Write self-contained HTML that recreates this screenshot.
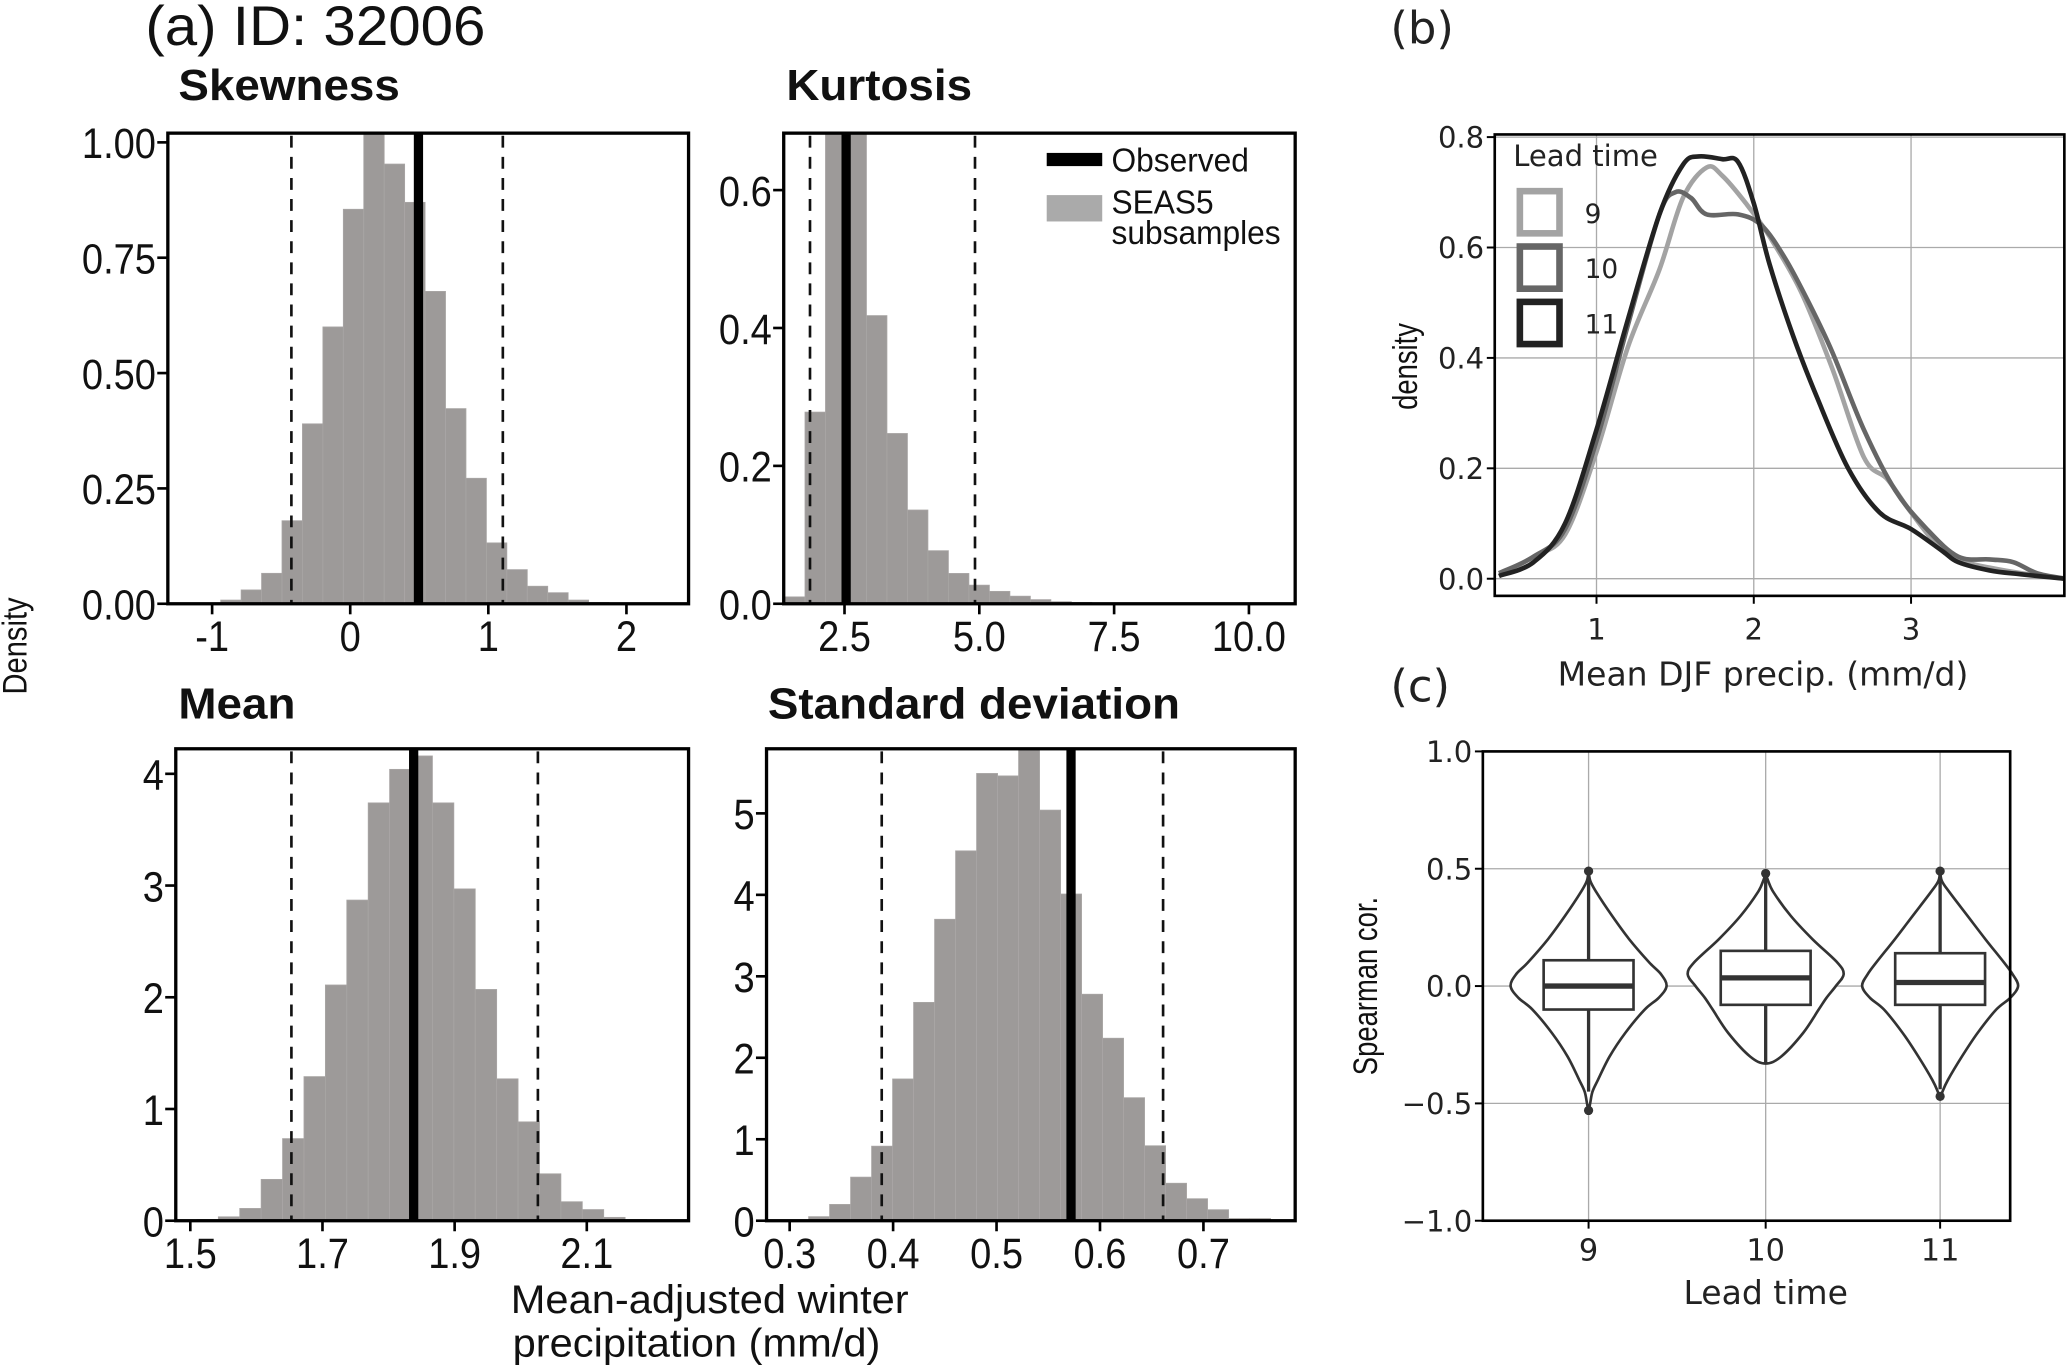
<!DOCTYPE html>
<html><head><meta charset="utf-8"><style>
html,body{margin:0;padding:0;background:#fff;}
svg{display:block;}
.n{font-family:"Liberation Sans",sans-serif;}
.w{font-family:"DejaVu Sans","Liberation Sans",sans-serif;}
</style></head><body>
<svg id="fig" width="2067" height="1371" viewBox="0 0 1564 1040" preserveAspectRatio="none" xmlns="http://www.w3.org/2000/svg">
</svg>
<script>
// ---- data ----
const skewStart=-0.938, skewWidth=0.148;
const skewDens=[0.008,0.03,0.066,0.18,0.39,0.60,0.855,1.03,0.953,0.87,0.677,0.423,0.272,0.132,0.074,0.038,0.024,0.008,0.003];
const skewObs=0.494, skewQ=[-0.426,1.105];
const skewTicksX=[-1,0,1,2], skewTicksY=[0,0.25,0.5,0.75,1.0];
const skewTickLabY=["0.00","0.25","0.50","0.75","1.00"];

const kurtStart=1.387, kurtWidth=0.38;
const kurtDens=[0.01,0.278,0.70,0.70,0.418,0.247,0.136,0.077,0.044,0.027,0.018,0.011,0.006,0.003,0.002,0.001];
const kurtObs=2.53, kurtQ=[1.86,4.92];
const kurtTicksX=[2.5,5.0,7.5,10.0], kurtTicksY=[0,0.2,0.4,0.6];

const meanStart=1.510, meanWidth=0.0324;
const meanDens=[0.01,0.035,0.11,0.37,0.735,1.29,2.11,2.87,3.74,4.04,4.16,3.74,2.97,2.07,1.27,0.885,0.42,0.17,0.10,0.03,0.01];
const meanObs=1.838, meanQ=[1.653,2.026];
const meanTicksX=[1.5,1.7,1.9,2.1], meanTicksY=[0,1,2,3,4];

const sdStart=0.298, sdWidth=0.0203;
const sdDens=[0.01,0.05,0.2,0.535,0.915,1.74,2.68,3.70,4.54,5.49,5.46,5.80,5.04,4.01,2.78,2.24,1.51,0.92,0.46,0.27,0.135,0.027,0.027];
const sdObs=0.572, sdQ=[0.389,0.661];
const sdTicksX=[0.3,0.4,0.5,0.6,0.7], sdTicksY=[0,1,2,3,4,5];

const leadLabels=["9","10","11"];
const leadColors=["#a3a3a3","#666666","#222222"];
const densX9=[0.38,0.6,0.8,1.0,1.2,1.4,1.55,1.7,1.8,1.95,2.1,2.3,2.5,2.7,2.85,3.0,3.2,3.35,3.5,3.7,3.98];
const densY9=[0.005,0.04,0.08,0.23,0.42,0.56,0.69,0.745,0.73,0.68,0.62,0.52,0.38,0.22,0.18,0.12,0.05,0.03,0.02,0.01,0.0];
const densX10=[0.38,0.6,0.8,1.0,1.2,1.4,1.5,1.6,1.7,1.9,2.05,2.2,2.35,2.5,2.7,2.9,3.1,3.3,3.5,3.65,3.8,3.98];
const densY10=[0.01,0.04,0.09,0.25,0.46,0.66,0.70,0.69,0.66,0.66,0.64,0.58,0.50,0.41,0.27,0.16,0.09,0.04,0.035,0.03,0.01,0.0];
const densX11=[0.38,0.6,0.8,1.0,1.2,1.4,1.55,1.65,1.8,1.9,2.0,2.1,2.25,2.4,2.6,2.8,3.0,3.2,3.3,3.5,3.7,3.98];
const densY11=[0.005,0.03,0.1,0.27,0.47,0.66,0.75,0.765,0.76,0.755,0.68,0.57,0.44,0.33,0.20,0.12,0.09,0.05,0.03,0.015,0.008,0.0];

const corrQ1=[-0.10,-0.08,-0.08], corrQ3=[0.11,0.15,0.14], corrMed=[0.0,0.035,0.015];
const corrLo=[-0.45,-0.33,-0.44], corrHi=[0.49,0.48,0.49];
const corrOutLo=[-0.53,null,-0.47], corrOutHi=[0.49,0.48,0.49];
const violinY9=[0.5,0.45,0.4,0.3,0.2,0.1,0.05,0.0,-0.05,-0.1,-0.2,-0.3,-0.4,-0.45,-0.5,-0.53];
const violinW9=[0,0.02,0.1,0.3,0.52,0.78,0.93,1.0,0.9,0.72,0.47,0.27,0.12,0.05,0.02,0];
const violinY10=[0.48,0.45,0.4,0.3,0.2,0.1,0.05,0.0,-0.05,-0.1,-0.2,-0.3,-0.33];
const violinW10=[0,0.03,0.1,0.32,0.6,0.92,1.0,0.9,0.78,0.68,0.48,0.2,0];
const violinY11=[0.5,0.45,0.4,0.3,0.2,0.1,0.05,0.0,-0.05,-0.1,-0.2,-0.3,-0.4,-0.45,-0.48];
const violinW11=[0,0.02,0.12,0.35,0.58,0.82,0.93,1.0,0.9,0.72,0.48,0.28,0.1,0.03,0];

// ---- drawing ----
const svg=document.getElementById('fig');
const NS='http://www.w3.org/2000/svg';
function mk(tag,attrs,parent){const e=document.createElementNS(NS,tag);for(const k in attrs)e.setAttribute(k,attrs[k]);(parent||svg).appendChild(e);return e;}
function ntext(parent,x,y,str,size,anchor,bold,sx){
  const t=mk('text',{x:0,y:0,'font-size':size,'text-anchor':anchor||'start',class:'n',fill:'#111',transform:'translate('+x+','+y+') scale('+(sx||0.8)+',1)'},parent);
  if(bold)t.setAttribute('font-weight','bold');
  t.textContent=str;return t;
}

const t1=ntext(svg,110,34,'(a) ID: 32006',42,'start',false,1.05);


const t2=mk('text',{x:1052,y:33,'font-size':34,class:'w',fill:'#222'});t2.textContent='(b)';


const t3=mk('text',{x:1052,y:532,'font-size':34,class:'w',fill:'#222'});t3.textContent='(c)';


const t4=mk('text',{x:0,y:0,'font-size':26,class:'n',fill:'#111','text-anchor':'middle',transform:'translate(20,490) rotate(-90) scale(0.85,1)'});t4.textContent='Density';


const t5=ntext(svg,537,996,'Mean-adjusted winter',30,'middle',false,1.05);


const t6=ntext(svg,527,1029,'precipitation (mm/d)',30,'middle',false,1.05);



function histPanel(o){
  const g=mk('g',{});
  
  
  const xs=v=>o.x0+(v-o.xv0)*o.xk, ys=v=>o.yb-v*o.yk;
  const clip='clip-'+o.name;
  const cp=mk('clipPath',{id:clip},g); mk('rect',{x:o.L,y:o.T,width:o.R-o.L,height:o.B-o.T},cp);
  const bars=mk('g',{'clip-path':'url(#'+clip+')'},g);
  o.dens.forEach((d,i)=>{
    const a=xs(o.start+i*o.width), b=xs(o.start+(i+1)*o.width);
    const r=mk('rect',{x:a,y:ys(d),width:b-a,height:ys(0)-ys(d),fill:'#9d9a99',stroke:'#a9a6a5','stroke-width':0.6},bars);
    
    
  });
  o.q.forEach(q=>{const l=mk('line',{x1:xs(q),x2:xs(q),y1:o.T+2,y2:o.B,stroke:'#111','stroke-width':2,'stroke-dasharray':'9,7'},g);
    
    });
  const ob=mk('line',{x1:xs(o.obs),x2:xs(o.obs),y1:o.T,y2:o.B,stroke:'#000','stroke-width':7},g);
  
  
  mk('rect',{x:o.L,y:o.T,width:o.R-o.L,height:o.B-o.T,fill:'none',stroke:'#000','stroke-width':2.5},g);
  o.tx.forEach(t=>{mk('line',{x1:xs(t),x2:xs(t),y1:o.B,y2:o.B+8,stroke:'#000','stroke-width':2},g);
    const tt=ntext(g,xs(t),o.B+36,(o.fx?o.fx(t):String(t)),32,'middle',false,0.9);
    
    });
  o.ty.forEach((t,i)=>{mk('line',{x1:o.L-8,x2:o.L,y1:ys(t),y2:ys(t),stroke:'#000','stroke-width':2},g);
    const tt=ntext(g,o.L-9,ys(t)+12,o.ly?o.ly[i]:(o.fy?o.fy(t):String(t)),32,'end',false,0.9);
    
    });
  const ti=ntext(g,o.tX,o.tY,o.title,33,'start',true,1.05);
  
  
}
histPanel({name:'skewness-panel',title:'Skewness',tX:135,tY:76,L:127,R:521,T:101,B:458,x0:265,xv0:0,xk:104.5,yb:458,yk:350,
  start:skewStart,width:skewWidth,dens:skewDens,obs:skewObs,q:skewQ,tx:skewTicksX,ty:skewTicksY,ly:skewTickLabY});
histPanel({name:'kurtosis-panel',title:'Kurtosis',tX:595,tY:76,L:593,R:980,T:101,B:458,x0:639,xv0:2.5,xk:40.8,yb:458,yk:523,
  start:kurtStart,width:kurtWidth,dens:kurtDens,obs:kurtObs,q:kurtQ,tx:kurtTicksX,ty:kurtTicksY,fx:t=>t.toFixed(1),fy:t=>t.toFixed(1)});
histPanel({name:'mean-panel',title:'Mean',tX:135,tY:545,L:133,R:521,T:568,B:926,x0:144,xv0:1.5,xk:500,yb:926,yk:84.75,
  start:meanStart,width:meanWidth,dens:meanDens,obs:meanObs,q:meanQ,tx:meanTicksX,ty:meanTicksY,fx:t=>t.toFixed(1)});
histPanel({name:'sd-panel',title:'Standard deviation',tX:581,tY:545,L:580,R:980,T:568,B:926,x0:597.5,xv0:0.3,xk:782.7,yb:926,yk:61.8,
  start:sdStart,width:sdWidth,dens:sdDens,obs:sdObs,q:sdQ,tx:sdTicksX,ty:sdTicksY,fx:t=>t.toFixed(1)});

// legend in kurtosis panel
(function(){
  const g=mk('g',{});
  
  
  mk('rect',{x:792,y:116,width:42,height:10,fill:'#000'},g);
  mk('rect',{x:792,y:148,width:42,height:20,fill:'#aaa'},g);
  ntext(g,841,130,'Observed',25,'start',false,0.96);
  ntext(g,841,162,'SEAS5',25,'start',false,0.96);
  ntext(g,841,185,'subsamples',25,'start',false,0.96);
})();

function spline(all){
  let d='M'+all[0].join(',');
  for(let k=0;k<all.length-1;k++){const p0=all[Math.max(0,k-1)],p1=all[k],p2=all[k+1],p3=all[Math.min(all.length-1,k+2)];
    d+=' C'+(p1[0]+(p2[0]-p0[0])/6)+','+(p1[1]+(p2[1]-p0[1])/6)+' '+(p2[0]-(p3[0]-p1[0])/6)+','+(p2[1]-(p3[1]-p1[1])/6)+' '+p2[0]+','+p2[1];}
  return d;
}

// panel b
(function(){
  const L=1131,R=1562,T=102,B=452;
  const xs=v=>1208+(v-1)*119, ys=v=>439-v*418.75;
  const g=mk('g',{});
  
  
  [1,2,3].forEach(t=>{mk('line',{x1:xs(t),x2:xs(t),y1:T,y2:B,stroke:'#aaa','stroke-width':1},g);
    mk('line',{x1:xs(t),x2:xs(t),y1:B,y2:B+6,stroke:'#000','stroke-width':1.5},g);
    const tt=mk('text',{x:xs(t),y:B+33,'font-size':22,'text-anchor':'middle',class:'w',fill:'#222'},g);tt.textContent=t;
    
    });
  [0,0.2,0.4,0.6,0.8].forEach(t=>{mk('line',{x1:L,x2:R,y1:ys(t),y2:ys(t),stroke:'#aaa','stroke-width':1},g);
    mk('line',{x1:L-6,x2:L,y1:ys(t),y2:ys(t),stroke:'#000','stroke-width':1.5},g);
    const tt=mk('text',{x:L-8,y:ys(t)+8,'font-size':22,'text-anchor':'end',class:'w',fill:'#222'},g);tt.textContent=t.toFixed(1);
    
    });
  const cp=mk('clipPath',{id:'clipb'},g);mk('rect',{x:L,y:T,width:R-L,height:B-T},cp);
  const series=[[densX9,densY9],[densX10,densY10],[densX11,densY11]];
  series.forEach((s,k)=>{
    const pts=s[0].map((x,i)=>[xs(x),ys(s[1][i])]);
    const p=mk('path',{d:spline(pts),fill:'none',stroke:leadColors[k],'stroke-width':3.5,'clip-path':'url(#clipb)'},g);
    
    
  });
  mk('rect',{x:L,y:T,width:R-L,height:B-T,fill:'none',stroke:'#000','stroke-width':2},g);
  const lt=mk('text',{x:1145,y:126,'font-size':22,class:'w',fill:'#222'},g);lt.textContent='Lead time';
  
  
  leadLabels.forEach((l,k)=>{
    const y=145+k*42;
    const r=mk('rect',{x:1150,y:y,width:30,height:32,fill:'#fff',stroke:leadColors[k],'stroke-width':5},g);
    
    
    const t=mk('text',{x:1199,y:y+24,'font-size':20,class:'w',fill:'#222'},g);t.textContent=l;
  });
  const yl=mk('text',{x:0,y:0,'font-size':26,class:'n',fill:'#111','text-anchor':'middle',transform:'translate(1072,278) rotate(-90) scale(0.8,1)'},g);yl.textContent='density';
  
  
  const xl=mk('text',{x:1334,y:520,'font-size':25,class:'w',fill:'#222','text-anchor':'middle'},g);xl.textContent='Mean DJF precip. (mm/d)';
  
  
})();

// panel c
(function(){
  const L=1122,R=1521,T=570,B=926;
  const ys=v=>748-v*178, cx=[1202,1336,1468];
  const g=mk('g',{});
  
  
  cx.forEach((x,i)=>{mk('line',{x1:x,x2:x,y1:T,y2:B,stroke:'#aaa','stroke-width':1},g);
    mk('line',{x1:x,x2:x,y1:B,y2:B+6,stroke:'#000','stroke-width':1.5},g);
    const tt=mk('text',{x:x,y:B+30,'font-size':23,'text-anchor':'middle',class:'w',fill:'#222'},g);tt.textContent=leadLabels[i];
    
    });
  [1,0.5,0,-0.5,-1].forEach(t=>{mk('line',{x1:L,x2:R,y1:ys(t),y2:ys(t),stroke:'#aaa','stroke-width':1},g);
    mk('line',{x1:L-6,x2:L,y1:ys(t),y2:ys(t),stroke:'#000','stroke-width':1.5},g);
    const tt=mk('text',{x:L-8,y:ys(t)+8,'font-size':22,'text-anchor':'end',class:'w',fill:'#222'},g);tt.textContent=t.toFixed(1).replace('-','\u2212');
    
    });
  const vy=[violinY9,violinY10,violinY11], vw=[violinW9,violinW10,violinW11];
  cx.forEach((x,i)=>{
    const w=vw[i], hw=59;
    const right=vy[i].map((y,j)=>[x+w[j]*hw,ys(y)]);
    const left=right.slice(0,-1).reverse().map(p=>[2*x-p[0],p[1]]);
    const v=mk('path',{d:spline(right.concat(left))+'Z',fill:'#fff',stroke:'#333','stroke-width':2},g);
    
    
    mk('line',{x1:x,x2:x,y1:ys(corrLo[i]),y2:ys(corrHi[i]),stroke:'#333','stroke-width':2.5},g);
    const b=mk('rect',{x:x-34,y:ys(corrQ3[i]),width:68,height:ys(corrQ1[i])-ys(corrQ3[i]),fill:'#fff',stroke:'#333','stroke-width':2},g);
    
    
    mk('line',{x1:x-34,x2:x+34,y1:ys(corrMed[i]),y2:ys(corrMed[i]),stroke:'#333','stroke-width':4},g);
    [corrOutLo[i],corrOutHi[i]].forEach(o=>{if(o!==null)mk('circle',{cx:x,cy:ys(o),r:3.5,fill:'#333'},g);});
  });
  mk('rect',{x:L,y:T,width:R-L,height:B-T,fill:'none',stroke:'#000','stroke-width':2},g);
  const yl=mk('text',{x:0,y:0,'font-size':26,class:'n',fill:'#111','text-anchor':'middle',transform:'translate(1042,748) rotate(-90) scale(0.8,1)'},g);yl.textContent='Spearman cor.';
  
  
  const xl=mk('text',{x:1336,y:989,'font-size':25,class:'w',fill:'#222','text-anchor':'middle'},g);xl.textContent='Lead time';
  
  
})();
</script>
</body></html>
